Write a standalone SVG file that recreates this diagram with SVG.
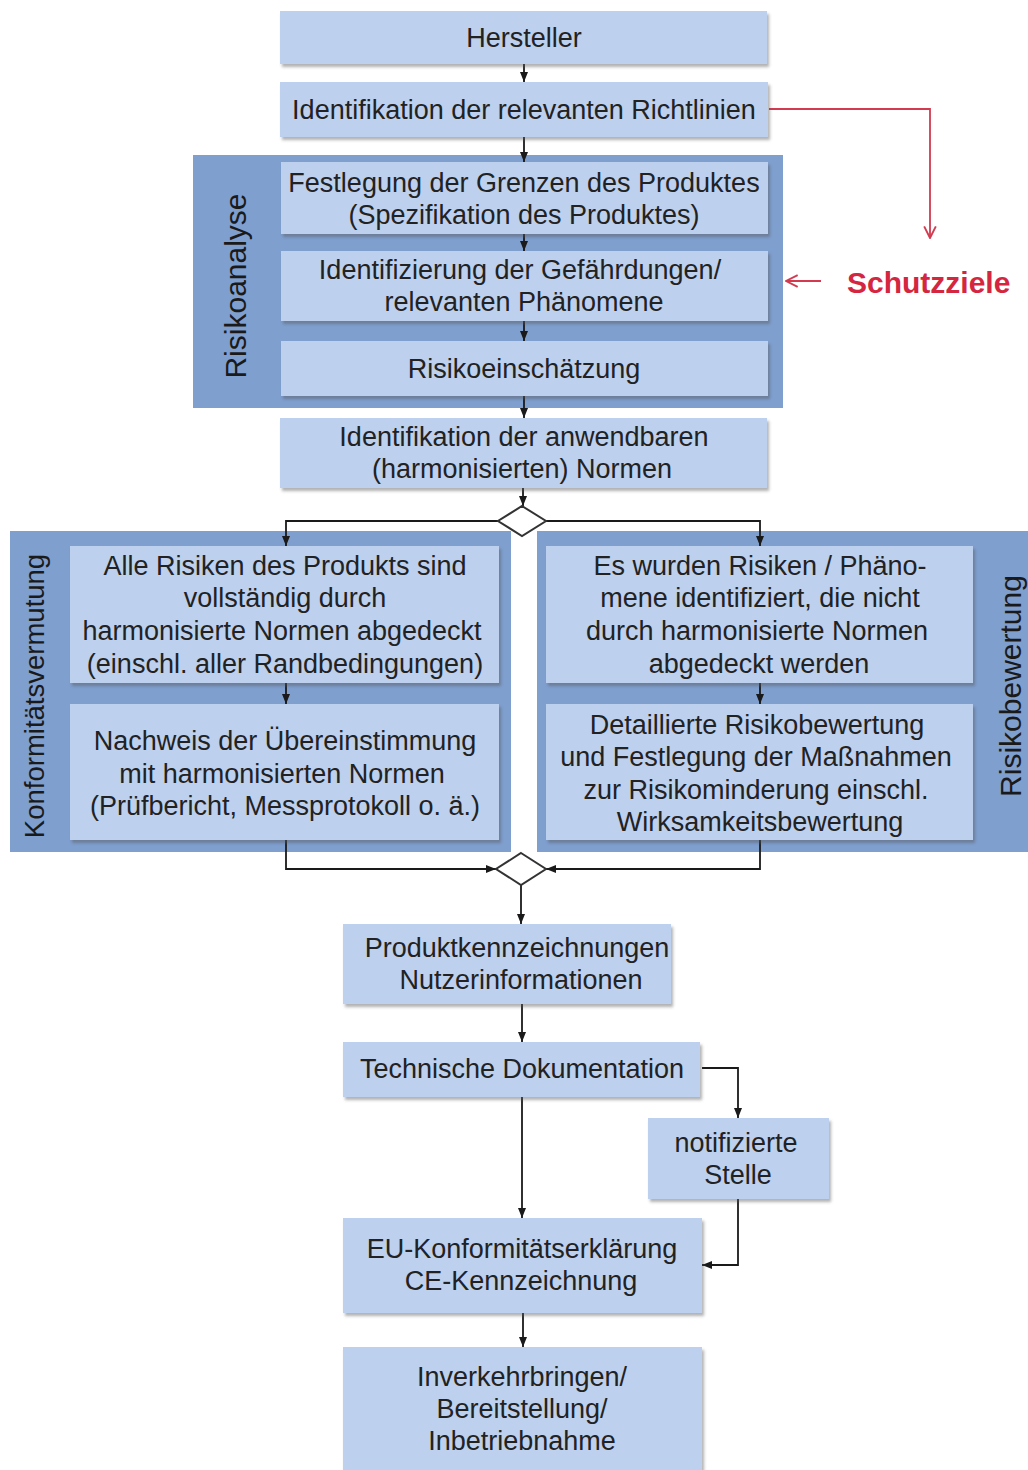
<svg xmlns="http://www.w3.org/2000/svg" width="1028" height="1470" viewBox="0 0 1028 1470">
<defs>
<style>
.box{fill:#bdd0ee;filter:url(#sh)}
.cont{fill:#7f9fcf}
.t{font-family:"Liberation Sans",Arial,sans-serif;font-size:27px;fill:#222;text-anchor:middle}
.vt{font-family:"Liberation Sans",Arial,sans-serif;fill:#1a1a1a;text-anchor:middle}
.c{fill:none;stroke:#1a1a1a;stroke-width:1.8}
.r{fill:none;stroke:#d23a50;stroke-width:1.8}
.dia{fill:#fff;stroke:#333;stroke-width:2}
</style>
<filter id="sh" x="-5%" y="-10%" width="112%" height="130%">
<feDropShadow dx="2" dy="3" stdDeviation="1.5" flood-color="#555" flood-opacity="0.45"/>
</filter>
<marker id="a" viewBox="0 0 10 10" refX="10" refY="5" markerWidth="10" markerHeight="10" markerUnits="userSpaceOnUse" orient="auto">
<path d="M0,1 L10,5 L0,9 z" fill="#1a1a1a"/>
</marker>
<marker id="ra" viewBox="0 0 12 12" refX="11" refY="6" markerWidth="14" markerHeight="14" markerUnits="userSpaceOnUse" orient="auto">
<path d="M1,1 L11,6 L1,11" fill="none" stroke="#d23a50" stroke-width="1.6"/>
</marker>
</defs>
<rect width="1028" height="1470" fill="#fff"/>

<g id="containers">
<g id="risikoanalyse"><rect class="cont" x="193" y="155" width="590" height="253"/>
<text class="vt" font-size="30" transform="translate(246,286) rotate(-90)">Risikoanalyse</text></g>
<g id="konformitaetsvermutung"><rect class="cont" x="10" y="531" width="501" height="321"/>
<text class="vt" font-size="27.5" transform="translate(44,696) rotate(-90)">Konformitätsvermutung</text></g>
<g id="risikobewertung"><rect class="cont" x="537" y="531" width="491" height="321"/>
<text class="vt" font-size="30" transform="translate(1021,686) rotate(-90)">Risikobewertung</text></g>
</g>

<g id="connectors">
<line class="c" x1="524" y1="64" x2="524" y2="82" marker-end="url(#a)"/>
<line class="c" x1="524" y1="137" x2="524" y2="162" marker-end="url(#a)"/>
<line class="c" x1="524" y1="234" x2="524" y2="251" marker-end="url(#a)"/>
<line class="c" x1="524" y1="321" x2="524" y2="341" marker-end="url(#a)"/>
<line class="c" x1="524" y1="396" x2="524" y2="418" marker-end="url(#a)"/>
<line class="c" x1="523" y1="488" x2="523" y2="506" marker-end="url(#a)"/>
<path class="c" d="M499,521 H286 V546" marker-end="url(#a)"/>
<path class="c" d="M546,521 H760 V546" marker-end="url(#a)"/>
<line class="c" x1="286" y1="683" x2="286" y2="704" marker-end="url(#a)"/>
<line class="c" x1="760" y1="683" x2="760" y2="704" marker-end="url(#a)"/>
<path class="c" d="M286,840 V869 H496" marker-end="url(#a)"/>
<path class="c" d="M760,840 V869 H546" marker-end="url(#a)"/>
<line class="c" x1="521" y1="885" x2="521" y2="924" marker-end="url(#a)"/>
<line class="c" x1="522" y1="1004" x2="522" y2="1042" marker-end="url(#a)"/>
<line class="c" x1="522" y1="1097" x2="522" y2="1218" marker-end="url(#a)"/>
<path class="c" d="M702,1068 H738 V1118" marker-end="url(#a)"/>
<path class="c" d="M738,1199 V1265 H702" marker-end="url(#a)"/>
<line class="c" x1="523" y1="1313" x2="523" y2="1347" marker-end="url(#a)"/>
<path class="r" d="M769,109 H930 V238" marker-end="url(#ra)"/>
<line class="r" x1="821" y1="281" x2="786" y2="281" marker-end="url(#ra)"/>
</g>

<g id="hersteller"><rect class="box" x="280" y="11" width="487" height="53"/>
<text class="t" x="524" y="47">Hersteller</text></g>
<g id="richtlinien"><rect class="box" x="280" y="82" width="488" height="55"/>
<text class="t" x="524" y="119">Identifikation der relevanten Richtlinien</text></g>
<g id="grenzen"><rect class="box" x="281" y="162" width="487" height="72"/>
<text class="t" x="524" y="192">Festlegung der Grenzen des Produktes</text>
<text class="t" x="524" y="224">(Spezifikation des Produktes)</text></g>
<g id="gefaehrdungen"><rect class="box" x="281" y="251" width="487" height="70"/>
<text class="t" x="520" y="279">Identifizierung der Gefährdungen/</text>
<text class="t" x="524" y="311">relevanten Phänomene</text></g>
<g id="risikoeinschaetzung"><rect class="box" x="281" y="341" width="487" height="55"/>
<text class="t" x="524" y="378">Risikoeinschätzung</text></g>
<g id="normen"><rect class="box" x="280" y="418" width="487" height="70"/>
<text class="t" x="524" y="446">Identifikation der anwendbaren</text>
<text class="t" x="522" y="478">(harmonisierten) Normen</text></g>

<g id="entscheidung1"><polygon class="dia" points="522,506 546,521 522,536 498,521"/></g>

<g id="abgedeckt"><rect class="box" x="70" y="546" width="429" height="137"/>
<text class="t" x="285" y="575">Alle Risiken des Produkts sind</text>
<text class="t" x="285" y="607">vollständig durch</text>
<text class="t" x="282" y="640">harmonisierte Normen abgedeckt</text>
<text class="t" x="285" y="673">(einschl. aller Randbedingungen)</text></g>
<g id="nachweis"><rect class="box" x="70" y="704" width="429" height="136"/>
<text class="t" x="285" y="750">Nachweis der Übereinstimmung</text>
<text class="t" x="282" y="783">mit harmonisierten Normen</text>
<text class="t" x="285" y="815">(Prüfbericht, Messprotokoll o. ä.)</text></g>
<g id="nicht-abgedeckt"><rect class="box" x="546" y="546" width="427" height="137"/>
<text class="t" x="760" y="575">Es wurden Risiken / Phäno-</text>
<text class="t" x="760" y="607">mene identifiziert, die nicht</text>
<text class="t" x="757" y="640">durch harmonisierte Normen</text>
<text class="t" x="759" y="673">abgedeckt werden</text></g>
<g id="detailbewertung"><rect class="box" x="546" y="704" width="427" height="136"/>
<text class="t" x="757" y="734">Detaillierte Risikobewertung</text>
<text class="t" x="756" y="766">und Festlegung der Maßnahmen</text>
<text class="t" x="756" y="799">zur Risikominderung einschl.</text>
<text class="t" x="760" y="831">Wirksamkeitsbewertung</text></g>

<g id="entscheidung2"><polygon class="dia" points="521,853 546,869 521,885 496,869"/></g>

<g id="kennzeichnungen"><rect class="box" x="343" y="924" width="328" height="80"/>
<text class="t" x="517" y="957">Produktkennzeichnungen</text>
<text class="t" x="521" y="989">Nutzerinformationen</text></g>
<g id="dokumentation"><rect class="box" x="343" y="1042" width="357" height="55"/>
<text class="t" x="522" y="1078">Technische Dokumentation</text></g>
<g id="notifizierte-stelle"><rect class="box" x="648" y="1118" width="181" height="81"/>
<text class="t" x="736" y="1152">notifizierte</text>
<text class="t" x="738" y="1184">Stelle</text></g>
<g id="konformitaetserklaerung"><rect class="box" x="343" y="1218" width="359" height="95"/>
<text class="t" x="522" y="1258">EU-Konformitätserklärung</text>
<text class="t" x="521" y="1290">CE-Kennzeichnung</text></g>
<g id="inverkehrbringen"><rect class="box" x="343" y="1347" width="359" height="130"/>
<text class="t" x="522" y="1386">Inverkehrbringen/</text>
<text class="t" x="522" y="1418">Bereitstellung/</text>
<text class="t" x="522" y="1450">Inbetriebnahme</text></g>

<g id="schutzziele"><text x="847" y="293" font-family="Liberation Sans,Arial,sans-serif" font-size="30" font-weight="bold" fill="#d4273f">Schutzziele</text></g>
</svg>
